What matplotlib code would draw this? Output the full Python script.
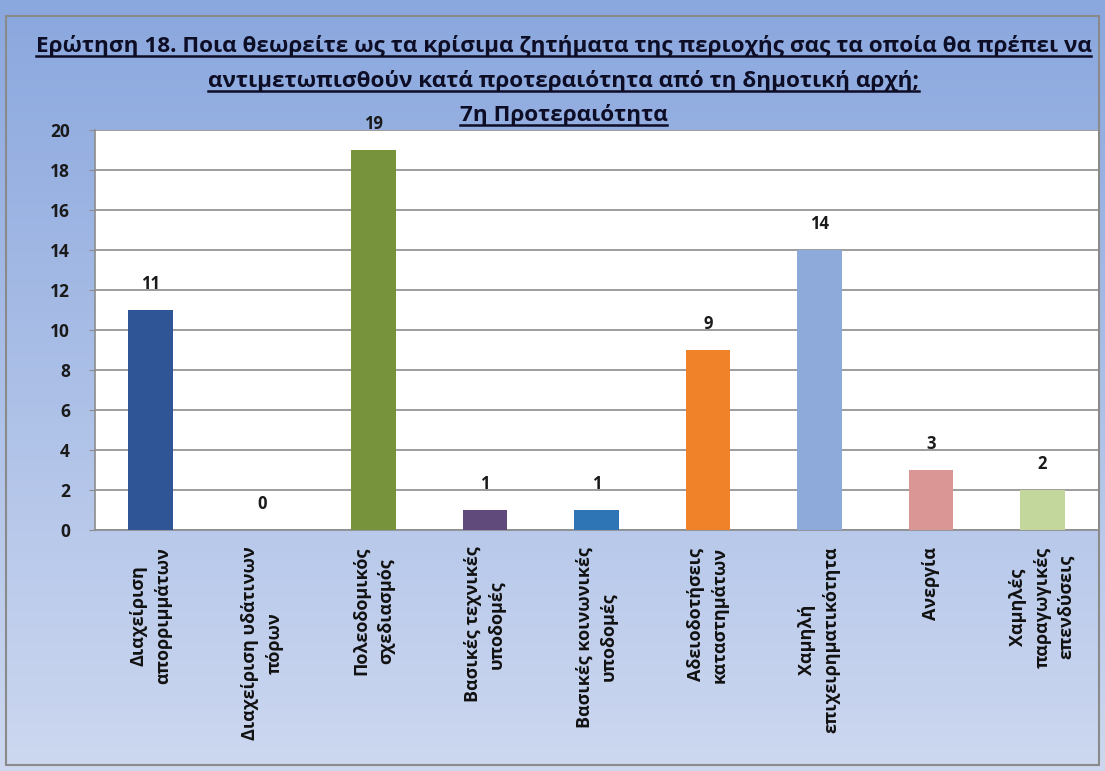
import numpy as np
import matplotlib
matplotlib.use("Agg")
import matplotlib.pyplot as plt
from matplotlib.lines import Line2D
from matplotlib.patches import Rectangle

categories = ["Διαχείριση\nαπορριμμάτων", "Διαχείριση υδάτινων\nπόρων", "Πολεοδομικός\nσχεδιασμός",
              "Βασικές τεχνικές\nυποδομές", "Βασικές κοινωνικές\nυποδομές", "Αδειοδοτήσεις\nκαταστημάτων",
              "Χαμηλή\nεπιχειρηματικότητα", "Ανεργία", "Χαμηλές\nπαραγωγικές\nεπενδύσεις"]
values = [11, 0, 19, 1, 1, 9, 14, 3, 2]
colors = ["#2f5597", "#4f81bd", "#77933c", "#604a7b", "#2e75b6", "#f0832a", "#8eaadb", "#d99694", "#c3d69b"]
yticks = [0, 2, 4, 6, 8, 10, 12, 14, 16, 18, 20]
title_lines = ["Ερώτηση 18. Ποια θεωρείτε ως τα κρίσιμα ζητήματα της περιοχής σας τα οποία θα πρέπει να",
               "αντιμετωπισθούν κατά προτεραιότητα από τη δημοτική αρχή;",
               "7η Προτεραιότητα"]

plt.rcParams['font.family'] = ['Open Sans', 'DejaVu Sans']
W, H = 1105, 771
fig = plt.figure(figsize=(W/100, H/100), dpi=100)

# gradient background
bg = fig.add_axes([0, 0, 1, 1], zorder=-10)
top = np.array([138, 167, 222]) / 255
bot = np.array([205, 216, 240]) / 255
t = np.linspace(0, 1, 256)[:, None]
grad = top[None, :] * (1 - t) + bot[None, :] * t
bg.imshow(grad[:, None, :], aspect='auto', extent=[0, 1, 0, 1])
bg.set_xlim(0, 1); bg.set_ylim(0, 1)
bg.axis('off')
bg.add_patch(Rectangle((6/W, 6/H), 1 - 12/W, 1 - 22/H, fill=False, edgecolor='#8a8a8a', lw=1.5))

ax = fig.add_axes([95/W, 1 - 530/H, (1098 - 95)/W, 400/H])
ax.set_facecolor('white')
x = np.arange(len(categories))
ax.bar(x, values, width=0.4, color=colors, zorder=3)
ax.set_xlim(-0.5, len(categories) - 0.5)
ax.set_ylim(0, 20)
ax.set_yticks(yticks)
ax.set_yticklabels([str(v) for v in yticks], fontsize=12.5, fontweight='bold', color='#1a1a1a')
ax.yaxis.grid(True, color='#8c8c8c', lw=1.2, zorder=0)
ax.set_axisbelow(True)
ax.set_xticks(x)
ax.set_xticklabels(categories, rotation=90, fontsize=13, fontweight='bold', color='#111111',
                   ha='center', va='top', multialignment='center', linespacing=1.45)
ax.tick_params(axis='x', length=0, pad=12)
ax.tick_params(axis='y', length=4, color='#8c8c8c', pad=14)
for s in ['top', 'right']:
    ax.spines[s].set_visible(False)
for s in ['left', 'bottom']:
    ax.spines[s].set_color('#8c8c8c')
    ax.spines[s].set_linewidth(1.2)

for xi, v in zip(x, values):
    ax.annotate(str(v), (xi, v), xytext=(0, 12), textcoords='offset points',
                ha='center', va='bottom', fontsize=12, fontweight='bold', color='#1a1a1a', zorder=5)

ys = [46, 81, 115]
texts = []
for line, y in zip(title_lines, ys):
    tt = fig.text(0.51, 1 - y/H, line, ha='center', va='center', fontsize=16.2,
                  fontweight='bold', color='#0d0d26')
    texts.append(tt)

fig.canvas.draw()
r = fig.canvas.get_renderer()
for tt in texts:
    bb = tt.get_window_extent(r)
    yy = (bb.y0 + 1) / H
    fig.add_artist(Line2D([bb.x0 / W, bb.x1 / W], [yy, yy], transform=fig.transFigure,
                          color='#0d0d26', lw=1.8))

fig.savefig("out.png", dpi=100)
